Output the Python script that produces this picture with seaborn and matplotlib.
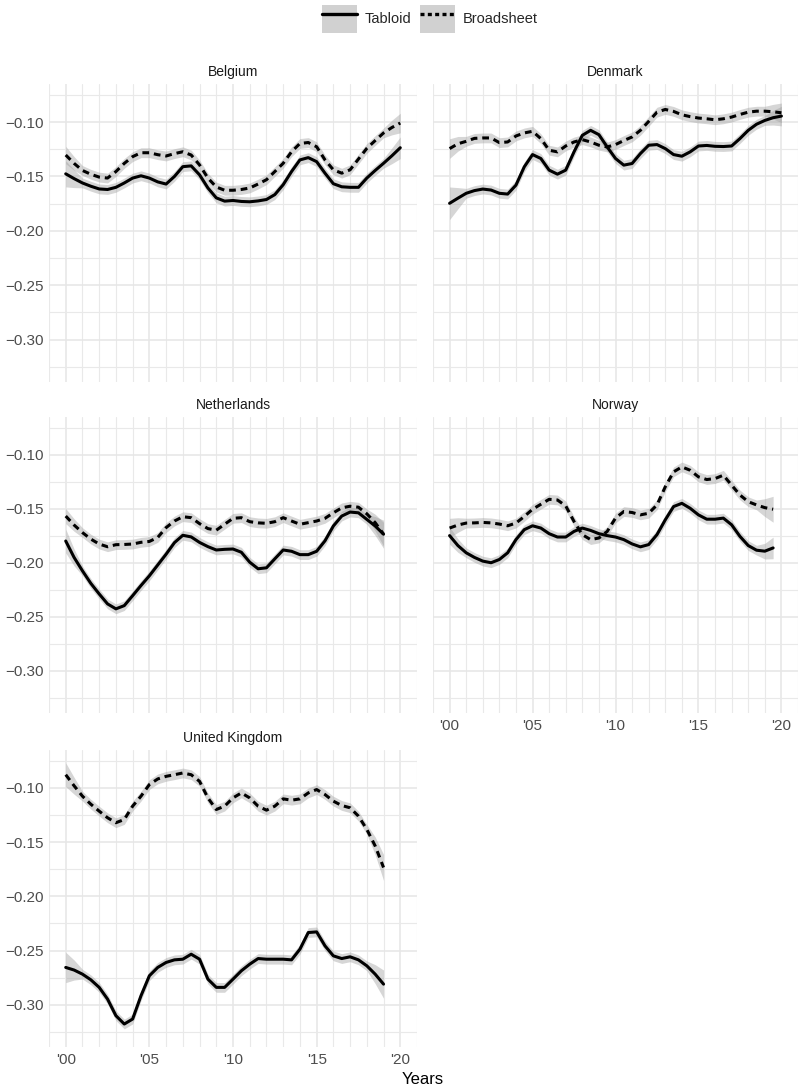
import numpy as np
import pandas as pd
import matplotlib
matplotlib.use("Agg")
import matplotlib.pyplot as plt
import matplotlib.ticker as mticker
from matplotlib.patches import Patch
from matplotlib.lines import Line2D
import seaborn as sns

# Smoothed tone per paper type (half-year steps)
years_20 = [2000 + 0.5 * i for i in range(41)]   # 2000 .. 2020
years_19 = [2000 + 0.5 * i for i in range(39)]   # 2000 .. 2019
years_195 = [2000 + 0.5 * i for i in range(40)]  # 2000 .. 2019.5

belgium_tabloid = [-0.1476, -0.152, -0.156, -0.159, -0.1615, -0.162, -0.160, -0.156, -0.1515, -0.1494,
                   -0.1515, -0.155, -0.157, -0.150, -0.141, -0.1403, -0.1485, -0.1606, -0.1697, -0.1727,
                   -0.1721, -0.173, -0.1733, -0.1725, -0.1712, -0.1667, -0.1576, -0.1455, -0.1348, -0.1327,
                   -0.1364, -0.147, -0.1567, -0.1595, -0.160, -0.160, -0.1515, -0.1445, -0.1379, -0.131, -0.1236]
belgium_broadsheet = [-0.1303, -0.138, -0.1445, -0.148, -0.1506, -0.1515, -0.1455, -0.138, -0.1318, -0.1282,
                      -0.1282, -0.130, -0.1312, -0.129, -0.1273, -0.1303, -0.1394, -0.1515, -0.1597, -0.1627,
                      -0.1627, -0.162, -0.1606, -0.157, -0.153, -0.1455, -0.1379, -0.1273, -0.1197, -0.1188,
                      -0.1227, -0.1348, -0.1439, -0.147, -0.1439, -0.134, -0.1242, -0.117, -0.110, -0.105, -0.1009]

denmark_tabloid = [-0.1747, -0.170, -0.1655, -0.163, -0.1616, -0.1625, -0.1655, -0.1662, -0.158, -0.1412,
                   -0.1299, -0.1335, -0.1442, -0.1479, -0.1442, -0.1274, -0.1122, -0.1076, -0.1116, -0.1229,
                   -0.1335, -0.1396, -0.1381, -0.129, -0.1213, -0.1207, -0.1244, -0.1299, -0.1314, -0.1274,
                   -0.122, -0.1215, -0.1223, -0.1225, -0.122, -0.1152, -0.1076, -0.102, -0.0985, -0.096, -0.0945]
denmark_broadsheet = [-0.1244, -0.120, -0.1177, -0.115, -0.1146, -0.1146, -0.1189, -0.1183, -0.1128, -0.110,
                      -0.1085, -0.1152, -0.1259, -0.1274, -0.122, -0.1183, -0.1162, -0.1183, -0.1213, -0.1229,
                      -0.1207, -0.117, -0.1137, -0.1076, -0.0994, -0.0909, -0.0884, -0.0902, -0.0933, -0.095,
                      -0.0963, -0.097, -0.0979, -0.097, -0.0954, -0.093, -0.0909, -0.090, -0.090, -0.0905, -0.0915]

netherlands_tabloid = [-0.1798, -0.195, -0.2074, -0.219, -0.2288, -0.238, -0.2426, -0.2396, -0.2304, -0.221,
                       -0.212, -0.202, -0.192, -0.1813, -0.1745, -0.176, -0.1811, -0.185, -0.1881, -0.1875,
                       -0.1872, -0.1902, -0.1994, -0.2055, -0.2046, -0.1963, -0.1881, -0.1893, -0.1924, -0.1924,
                       -0.1893, -0.1796, -0.1659, -0.1567, -0.153, -0.1537, -0.1598, -0.1659, -0.1735]
netherlands_broadsheet = [-0.1567, -0.165, -0.172, -0.178, -0.1826, -0.1851, -0.1832, -0.183, -0.1826, -0.181,
                          -0.1802, -0.1765, -0.1674, -0.1613, -0.1573, -0.1582, -0.1637, -0.1683, -0.1698, -0.1643,
                          -0.1588, -0.1582, -0.1619, -0.163, -0.1634, -0.1619, -0.1582, -0.1613, -0.1643, -0.1628,
                          -0.1613, -0.1588, -0.1537, -0.1491, -0.1476, -0.1485, -0.1546, -0.1628, -0.1735]

norway_tabloid = [-0.1748, -0.184, -0.1907, -0.195, -0.1984, -0.1999, -0.1969, -0.1907, -0.1785, -0.1693,
                  -0.1657, -0.1678, -0.173, -0.1761, -0.1761, -0.1709, -0.1678, -0.170, -0.173, -0.1748,
                  -0.1761, -0.1785, -0.1825, -0.1852, -0.1831, -0.1739, -0.1602, -0.1479, -0.1449, -0.1495,
                  -0.1556, -0.1596, -0.1596, -0.1586, -0.1648, -0.1755, -0.184, -0.1883, -0.1892, -0.1862]
norway_broadsheet = [-0.1678, -0.165, -0.1632, -0.163, -0.1626, -0.163, -0.1641, -0.1657, -0.1632, -0.1571,
                     -0.1504, -0.1458, -0.1412, -0.1418, -0.1473, -0.1617, -0.1739, -0.1785, -0.177, -0.1709,
                     -0.1586, -0.1525, -0.1534, -0.1556, -0.1541, -0.1464, -0.1296, -0.1158, -0.1112, -0.1143,
                     -0.1204, -0.1229, -0.122, -0.1189, -0.1281, -0.1372, -0.1434, -0.1464, -0.1489, -0.1504]

uk_tabloid = [-0.2656, -0.268, -0.2718, -0.277, -0.284, -0.2948, -0.3101, -0.3178, -0.3132, -0.2917,
              -0.2733, -0.2656, -0.261, -0.2586, -0.258, -0.2534, -0.258, -0.2764, -0.284, -0.284,
              -0.2764, -0.2687, -0.2626, -0.2574, -0.258, -0.258, -0.258, -0.2586, -0.2488, -0.2334,
              -0.2328, -0.2457, -0.2549, -0.2574, -0.2558, -0.2586, -0.2641, -0.2718, -0.281]
uk_broadsheet = [-0.0878, -0.098, -0.1076, -0.115, -0.1214, -0.1275, -0.1321, -0.1291, -0.1168, -0.1076,
                 -0.0969, -0.0917, -0.0893, -0.0878, -0.0862, -0.0878, -0.0939, -0.1092, -0.1199, -0.1168,
                 -0.1092, -0.1046, -0.1092, -0.1168, -0.1205, -0.1168, -0.1101, -0.1113, -0.1101, -0.1046,
                 -0.1015, -0.1061, -0.1122, -0.1162, -0.1183, -0.126, -0.1382, -0.1535, -0.1734]

# half width of the grey confidence band: (first point, middle, last point)
band_tabloid = {"Belgium": (0.012, 0.0045, 0.010), "Denmark": (0.015, 0.0045, 0.009),
                "Netherlands": (0.011, 0.0045, 0.013), "Norway": (0.008, 0.0045, 0.010),
                "United Kingdom": (0.014, 0.0045, 0.013)}
band_broadsheet = {"Belgium": (0.008, 0.0045, 0.009), "Denmark": (0.009, 0.0045, 0.009),
                   "Netherlands": (0.007, 0.0045, 0.011), "Norway": (0.009, 0.0045, 0.012),
                   "United Kingdom": (0.011, 0.0045, 0.012)}

panels = [("Belgium", years_20, belgium_tabloid, belgium_broadsheet),
          ("Denmark", years_20, denmark_tabloid, denmark_broadsheet),
          ("Netherlands", years_19, netherlands_tabloid, netherlands_broadsheet),
          ("Norway", years_195, norway_tabloid, norway_broadsheet),
          ("United Kingdom", years_19, uk_tabloid, uk_broadsheet)]

sns.set_theme(style="white")
plt.rcParams["font.family"] = ["Liberation Sans", "DejaVu Sans"]

fig = plt.figure(figsize=(7.98, 10.89), dpi=100)
W, H = 798, 1089
# panel boxes in pixels: left, top, right, bottom
cols = [(49, 417), (433, 798)]
rows = [(84, 382), (417, 713), (750, 1047)]

line_kw = {"Tabloid": dict(linestyle="-"), "Broadsheet": dict(linestyle=(0, (2.2, 1.6)))}

for i, (name, yrs, tab, broad) in enumerate(panels):
    r, c = divmod(i, 2)
    x0, x1 = cols[c]
    t, b = rows[r]
    ax = fig.add_axes([x0 / W, 1 - b / H, (x1 - x0) / W, (b - t) / H])

    df = pd.DataFrame({"year": yrs * 2,
                       "tone": tab + broad,
                       "paper": ["Tabloid"] * len(yrs) + ["Broadsheet"] * len(yrs)})

    for paper, bands in [("Tabloid", band_tabloid), ("Broadsheet", band_broadsheet)]:
        sub = df[df["paper"] == paper]
        se = np.full(len(sub), bands[name][1])
        se[0], se[1] = bands[name][0], (bands[name][0] + bands[name][1]) / 2
        se[-1], se[-2] = bands[name][2], (bands[name][2] + bands[name][1]) / 2
        ax.fill_between(sub["year"], sub["tone"] - se, sub["tone"] + se,
                        color="#999999", alpha=0.4, linewidth=0, zorder=2)
    for paper in ["Tabloid", "Broadsheet"]:
        sub = df[df["paper"] == paper]
        sns.lineplot(data=sub, x="year", y="tone", ax=ax, color="black", lw=2.2,
                     zorder=3, solid_joinstyle="round", dash_joinstyle="round", **line_kw[paper])

    ax.set_xlim(1999, 2021)
    ax.set_ylim(-0.339, -0.065)
    ax.xaxis.set_major_locator(mticker.MultipleLocator(5))
    ax.xaxis.set_minor_locator(mticker.MultipleLocator(1))
    ax.yaxis.set_major_locator(mticker.MultipleLocator(0.05))
    ax.yaxis.set_minor_locator(mticker.MultipleLocator(0.025))
    ax.xaxis.set_major_formatter(mticker.FuncFormatter(lambda v, p: "'%02d" % (int(round(v)) % 100)))
    ax.yaxis.set_major_formatter(mticker.FuncFormatter(lambda v, p: f"{v:.2f}".replace("-", "\u2212")))
    ax.grid(which="major", color="#E6E6E6", lw=1.1)
    ax.grid(which="minor", color="#E9E9E9", lw=0.8)
    ax.set_axisbelow(True)
    for s in ax.spines.values():
        s.set_visible(False)
    ax.tick_params(which="both", length=0, labelsize=11, labelcolor="#4D4D4D", pad=4)
    ax.set_xlabel("")
    ax.set_ylabel("")
    if c == 1:
        ax.tick_params(labelleft=False)
    if name not in ("Norway", "United Kingdom"):
        ax.tick_params(labelbottom=False)
    ax.set_title(name, fontsize=10, color="#1A1A1A", pad=6)

fig.text(423 / W, 1 - 1079 / H, "Years", ha="center", va="center", fontsize=12, color="black")

grey = Patch(facecolor="#999999", alpha=0.45, edgecolor="none")
h_tab = (grey, Line2D([], [], color="black", lw=2.4))
h_broad = (grey, Line2D([], [], color="black", lw=2.4, linestyle=(0, (1.2, 1.0))))
fig.legend([h_tab, h_broad], ["Tabloid", "Broadsheet"], loc="center",
           bbox_to_anchor=(430 / W, 1 - 19 / H), ncol=2, frameon=False, fontsize=10.5,
           handlelength=2.4, handleheight=2.5, handletextpad=0.5, columnspacing=0.6)

fig.savefig("out.png", dpi=100)
